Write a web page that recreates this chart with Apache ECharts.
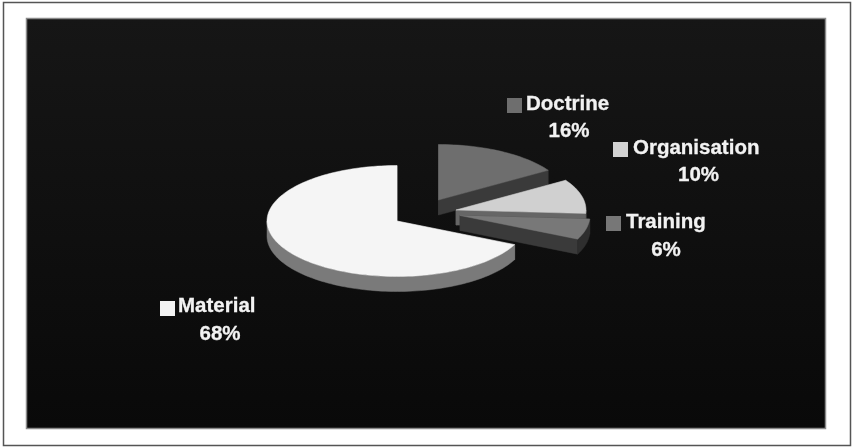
<!DOCTYPE html>
<html><head><meta charset="utf-8">
<style>html,body{margin:0;padding:0;background:#fff}#c{width:852px;height:447px}</style>
<script src="https://cdn.jsdelivr.net/npm/echarts@6/dist/echarts.min.js"></script>
</head><body><div id="c"></div>
<script>
var categories = ['Doctrine', 'Organisation', 'Training', 'Material'];
var shares = [16, 10, 6, 68];

var topColors = ['#6e6e6e', '#d0d0d0', '#787878', '#f5f5f5'];
var cutColors = ['#3a3a3a', '#666666', '#3a3a3a', '#7a7a7a'];
var rimColors = ['#3a3a3a', '#666666', '#2e2e2e', '#7a7a7a'];
var keyColors = ['#6e6e6e', '#d2d2d2', '#777777', '#f2f2f2'];
var centers = [[438.5, 200], [456, 210], [460, 215.5], [397, 221]];
var keyBoxes = [[507, 98], [613, 142], [606, 216], [160, 301]];
var nameBaselines = [[526, 110], [633, 154], [626, 228], [178, 312]];
var pctBaselines = [[569, 137], [698.5, 181], [666, 256], [220, 340]];
var RX = 130, RY = 55.5, DEPTH = 15, KEY = 15, BASE_SHIFT = 5.5;
var FONT = '700 20.5px "Liberation Sans", Arial, sans-serif';

var total = shares.reduce(function (a, b) { return a + b; }, 0);
var starts = [], acc = 0;
shares.forEach(function (v) { starts.push(acc / total * Math.PI * 2); acc += v; });

function rim(c, a0, a1, dy) {
  var n = Math.max(2, Math.ceil((a1 - a0) / 0.03)), pts = [];
  for (var i = 0; i <= n; i++) {
    var a = a0 + (a1 - a0) * i / n;
    pts.push([c[0] + RX * Math.sin(a), c[1] - RY * Math.cos(a) + dy]);
  }
  return pts;
}
function poly(points, fill) {
  return { type: 'polygon', shape: { points: points }, style: { fill: fill, stroke: fill, lineWidth: 0.5 } };
}
function renderItem(params, api) {
  var i = params.dataIndex, c = centers[i];
  var a0 = starts[i], a1 = a0 + api.value(0) / total * Math.PI * 2;
  var kids = [];
  var apex = [c[0], c[1]], apexD = [c[0], c[1] + DEPTH];
  [a0, a1].forEach(function (a) {
    var e = rim(c, a, a + 1e-4, 0)[0];
    kids.push(poly([apex, e, [e[0], e[1] + DEPTH], apexD], cutColors[i]));
  });
  var f0 = Math.max(a0, Math.PI / 2), f1 = Math.min(a1, Math.PI * 3 / 2);
  if (f1 > f0) {
    kids.push(poly(rim(c, f0, f1, 0).concat(rim(c, f0, f1, DEPTH).reverse()), rimColors[i]));
  }
  kids.push(poly([apex].concat(rim(c, a0, a1, 0)), topColors[i]));
  return { type: 'group', children: kids };
}
function textEl(str, pos, align) {
  return { type: 'text', x: pos[0], y: pos[1] - BASE_SHIFT, style: { text: str, font: FONT, fill: '#f2f2f2', stroke: '#f2f2f2', lineWidth: 0.3, textAlign: align, textVerticalAlign: 'middle' } };
}
function renderLabel(params, api) {
  var i = params.dataIndex, k = keyBoxes[i];
  return { type: 'group', children: [
    { type: 'rect', shape: { x: k[0], y: k[1], width: KEY, height: KEY }, style: { fill: keyColors[i] } },
    textEl(categories[i], nameBaselines[i], 'left'),
    textEl(api.value(0) + '%', pctBaselines[i], 'center')
  ] };
}
var chart = echarts.init(document.getElementById('c'), null, { renderer: 'canvas' });
chart.setOption({
  animation: false,
  backgroundColor: '#ffffff',
  graphic: { elements: [
    { type: 'rect', z: -10, shape: { x: 3.5, y: 2.5, width: 847, height: 443 }, style: { fill: '#ffffff', stroke: '#555555', lineWidth: 1.5 } },
    { type: 'rect', z: -9, shape: { x: 26.5, y: 18.5, width: 799, height: 410 }, style: {
      fill: new echarts.graphic.LinearGradient(0, 0, 0, 1, [{ offset: 0, color: '#161616' }, { offset: 1, color: '#090909' }]),
      stroke: '#8a8a8a', lineWidth: 1.5 } }
  ] },
  series: [
    { type: 'custom', coordinateSystem: 'none', silent: true, z: 2, clip: false, renderItem: renderItem, data: shares.map(function (v) { return [v]; }) },
    { type: 'custom', coordinateSystem: 'none', silent: true, z: 3, clip: false, renderItem: renderLabel, data: shares.map(function (v) { return [v]; }) }
  ]
});
</script></body></html>
